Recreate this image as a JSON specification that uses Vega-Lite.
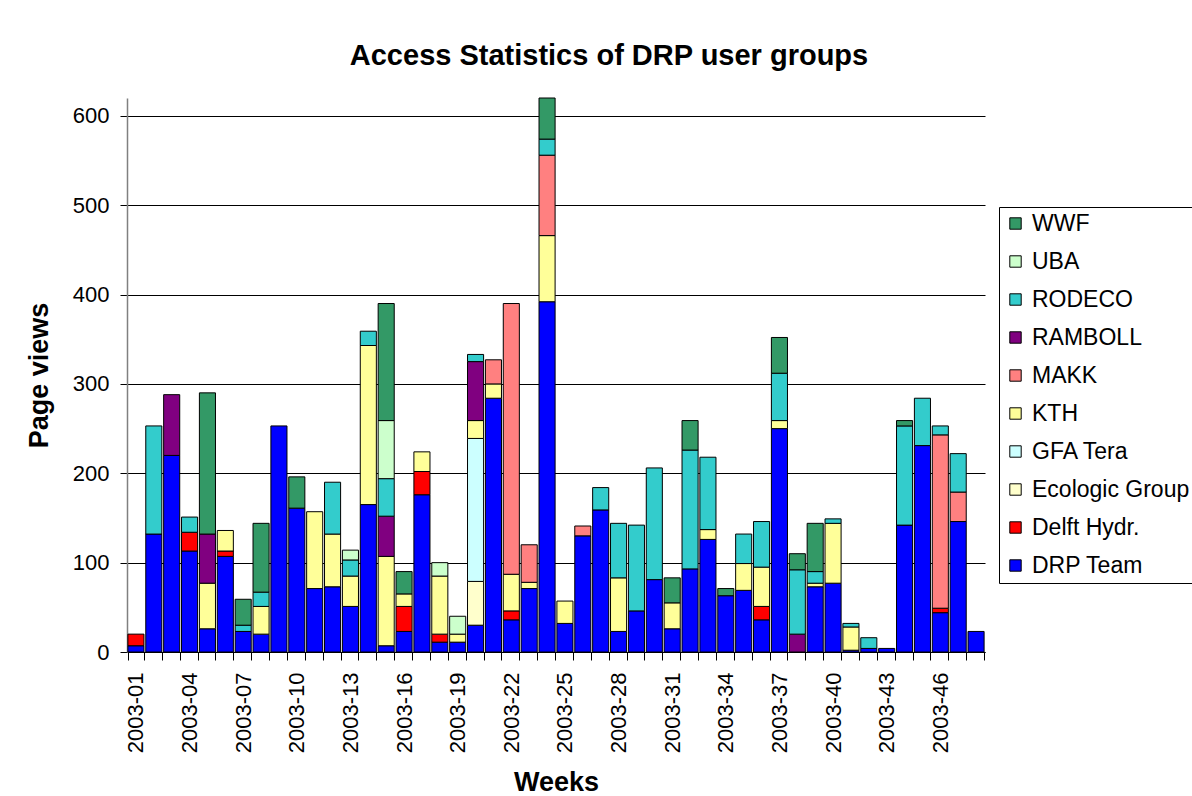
{
  "$schema": "https://vega.github.io/schema/vega-lite/v6.json",
  "width": 858,
  "height": 554,
  "autosize": {"type": "none"},
  "padding": {"left": 127, "top": 98, "right": 207, "bottom": 144},
  "background": "white",
  "title": {"text": "Access Statistics of DRP user groups", "font": "Liberation Sans", "fontSize": 29, "fontWeight": "bold", "color": "black", "anchor": "middle", "frame": "group", "dx": 53, "baseline": "alphabetic", "offset": 4},
  "config": {"view": {"stroke": null}, "font": "Liberation Sans"},
  "data": {"values": [
    {"week": "2003-01", "group": "DRP Team", "v": 7}, {"week": "2003-01", "group": "Delft Hydr.", "v": 13},
    {"week": "2003-02", "group": "DRP Team", "v": 132}, {"week": "2003-02", "group": "RODECO", "v": 121},
    {"week": "2003-03", "group": "DRP Team", "v": 220}, {"week": "2003-03", "group": "RAMBOLL", "v": 68},
    {"week": "2003-04", "group": "DRP Team", "v": 113}, {"week": "2003-04", "group": "Delft Hydr.", "v": 21}, {"week": "2003-04", "group": "RODECO", "v": 17},
    {"week": "2003-05", "group": "DRP Team", "v": 26}, {"week": "2003-05", "group": "KTH", "v": 51}, {"week": "2003-05", "group": "RAMBOLL", "v": 55}, {"week": "2003-05", "group": "WWF", "v": 158},
    {"week": "2003-06", "group": "DRP Team", "v": 107}, {"week": "2003-06", "group": "Delft Hydr.", "v": 6}, {"week": "2003-06", "group": "KTH", "v": 23},
    {"week": "2003-07", "group": "DRP Team", "v": 23}, {"week": "2003-07", "group": "RODECO", "v": 7}, {"week": "2003-07", "group": "WWF", "v": 29},
    {"week": "2003-08", "group": "DRP Team", "v": 20}, {"week": "2003-08", "group": "KTH", "v": 31}, {"week": "2003-08", "group": "RODECO", "v": 16}, {"week": "2003-08", "group": "WWF", "v": 77},
    {"week": "2003-09", "group": "DRP Team", "v": 253},
    {"week": "2003-10", "group": "DRP Team", "v": 161}, {"week": "2003-10", "group": "WWF", "v": 35},
    {"week": "2003-11", "group": "DRP Team", "v": 71}, {"week": "2003-11", "group": "KTH", "v": 86},
    {"week": "2003-12", "group": "DRP Team", "v": 73}, {"week": "2003-12", "group": "KTH", "v": 59}, {"week": "2003-12", "group": "RODECO", "v": 58},
    {"week": "2003-13", "group": "DRP Team", "v": 51}, {"week": "2003-13", "group": "KTH", "v": 34}, {"week": "2003-13", "group": "RODECO", "v": 18}, {"week": "2003-13", "group": "UBA", "v": 11},
    {"week": "2003-14", "group": "DRP Team", "v": 165}, {"week": "2003-14", "group": "KTH", "v": 178}, {"week": "2003-14", "group": "RODECO", "v": 16},
    {"week": "2003-15", "group": "DRP Team", "v": 7}, {"week": "2003-15", "group": "KTH", "v": 100}, {"week": "2003-15", "group": "RAMBOLL", "v": 45}, {"week": "2003-15", "group": "RODECO", "v": 42}, {"week": "2003-15", "group": "UBA", "v": 65}, {"week": "2003-15", "group": "WWF", "v": 131},
    {"week": "2003-16", "group": "DRP Team", "v": 23}, {"week": "2003-16", "group": "Delft Hydr.", "v": 28}, {"week": "2003-16", "group": "KTH", "v": 14}, {"week": "2003-16", "group": "WWF", "v": 25},
    {"week": "2003-17", "group": "DRP Team", "v": 176}, {"week": "2003-17", "group": "Delft Hydr.", "v": 26}, {"week": "2003-17", "group": "KTH", "v": 22},
    {"week": "2003-18", "group": "DRP Team", "v": 11}, {"week": "2003-18", "group": "Delft Hydr.", "v": 9}, {"week": "2003-18", "group": "KTH", "v": 65}, {"week": "2003-18", "group": "UBA", "v": 15},
    {"week": "2003-19", "group": "DRP Team", "v": 11}, {"week": "2003-19", "group": "KTH", "v": 9}, {"week": "2003-19", "group": "UBA", "v": 20},
    {"week": "2003-20", "group": "DRP Team", "v": 30}, {"week": "2003-20", "group": "Ecologic Group", "v": 49}, {"week": "2003-20", "group": "GFA Tera", "v": 160}, {"week": "2003-20", "group": "KTH", "v": 20}, {"week": "2003-20", "group": "RAMBOLL", "v": 66}, {"week": "2003-20", "group": "RODECO", "v": 8},
    {"week": "2003-21", "group": "DRP Team", "v": 284}, {"week": "2003-21", "group": "KTH", "v": 16}, {"week": "2003-21", "group": "MAKK", "v": 27},
    {"week": "2003-22", "group": "DRP Team", "v": 36}, {"week": "2003-22", "group": "Delft Hydr.", "v": 10}, {"week": "2003-22", "group": "KTH", "v": 41}, {"week": "2003-22", "group": "MAKK", "v": 303},
    {"week": "2003-23", "group": "DRP Team", "v": 71}, {"week": "2003-23", "group": "KTH", "v": 7}, {"week": "2003-23", "group": "MAKK", "v": 42},
    {"week": "2003-24", "group": "DRP Team", "v": 392}, {"week": "2003-24", "group": "KTH", "v": 74}, {"week": "2003-24", "group": "MAKK", "v": 90}, {"week": "2003-24", "group": "RODECO", "v": 18}, {"week": "2003-24", "group": "WWF", "v": 46},
    {"week": "2003-25", "group": "DRP Team", "v": 32}, {"week": "2003-25", "group": "KTH", "v": 25},
    {"week": "2003-26", "group": "DRP Team", "v": 130}, {"week": "2003-26", "group": "MAKK", "v": 11},
    {"week": "2003-27", "group": "DRP Team", "v": 159}, {"week": "2003-27", "group": "RODECO", "v": 25},
    {"week": "2003-28", "group": "DRP Team", "v": 23}, {"week": "2003-28", "group": "KTH", "v": 60}, {"week": "2003-28", "group": "RODECO", "v": 61},
    {"week": "2003-29", "group": "DRP Team", "v": 46}, {"week": "2003-29", "group": "RODECO", "v": 96},
    {"week": "2003-30", "group": "DRP Team", "v": 81}, {"week": "2003-30", "group": "RODECO", "v": 125},
    {"week": "2003-31", "group": "DRP Team", "v": 26}, {"week": "2003-31", "group": "KTH", "v": 29}, {"week": "2003-31", "group": "WWF", "v": 28},
    {"week": "2003-32", "group": "DRP Team", "v": 93}, {"week": "2003-32", "group": "RODECO", "v": 133}, {"week": "2003-32", "group": "WWF", "v": 33},
    {"week": "2003-33", "group": "DRP Team", "v": 126}, {"week": "2003-33", "group": "KTH", "v": 11}, {"week": "2003-33", "group": "RODECO", "v": 81},
    {"week": "2003-34", "group": "DRP Team", "v": 63}, {"week": "2003-34", "group": "WWF", "v": 8},
    {"week": "2003-35", "group": "DRP Team", "v": 69}, {"week": "2003-35", "group": "KTH", "v": 30}, {"week": "2003-35", "group": "RODECO", "v": 33},
    {"week": "2003-36", "group": "DRP Team", "v": 36}, {"week": "2003-36", "group": "Delft Hydr.", "v": 15}, {"week": "2003-36", "group": "KTH", "v": 44}, {"week": "2003-36", "group": "RODECO", "v": 51},
    {"week": "2003-37", "group": "DRP Team", "v": 250}, {"week": "2003-37", "group": "KTH", "v": 9}, {"week": "2003-37", "group": "RODECO", "v": 53}, {"week": "2003-37", "group": "WWF", "v": 40},
    {"week": "2003-38", "group": "RAMBOLL", "v": 20}, {"week": "2003-38", "group": "RODECO", "v": 72}, {"week": "2003-38", "group": "WWF", "v": 18},
    {"week": "2003-39", "group": "DRP Team", "v": 73}, {"week": "2003-39", "group": "KTH", "v": 4}, {"week": "2003-39", "group": "RODECO", "v": 13}, {"week": "2003-39", "group": "WWF", "v": 54},
    {"week": "2003-40", "group": "DRP Team", "v": 77}, {"week": "2003-40", "group": "KTH", "v": 67}, {"week": "2003-40", "group": "RODECO", "v": 5},
    {"week": "2003-41", "group": "DRP Team", "v": 2}, {"week": "2003-41", "group": "KTH", "v": 26}, {"week": "2003-41", "group": "RODECO", "v": 4},
    {"week": "2003-42", "group": "DRP Team", "v": 4}, {"week": "2003-42", "group": "RODECO", "v": 12},
    {"week": "2003-43", "group": "DRP Team", "v": 4},
    {"week": "2003-44", "group": "DRP Team", "v": 142}, {"week": "2003-44", "group": "RODECO", "v": 111}, {"week": "2003-44", "group": "WWF", "v": 6},
    {"week": "2003-45", "group": "DRP Team", "v": 231}, {"week": "2003-45", "group": "RODECO", "v": 53},
    {"week": "2003-46", "group": "DRP Team", "v": 44}, {"week": "2003-46", "group": "Delft Hydr.", "v": 5}, {"week": "2003-46", "group": "MAKK", "v": 194}, {"week": "2003-46", "group": "RODECO", "v": 10},
    {"week": "2003-47", "group": "DRP Team", "v": 146}, {"week": "2003-47", "group": "MAKK", "v": 33}, {"week": "2003-47", "group": "RODECO", "v": 43},
    {"week": "2003-48", "group": "DRP Team", "v": 23}
  ]},
  "transform": [
    {"calculate": "indexof(['DRP Team','Delft Hydr.','Ecologic Group','GFA Tera','KTH','MAKK','RAMBOLL','RODECO','UBA','WWF'], datum.group)", "as": "stackOrder"}
  ],
  "mark": {"type": "bar", "stroke": "black", "strokeWidth": 1},
  "encoding": {
    "x": {
      "field": "week", "type": "ordinal",
      "scale": {"paddingInner": 0.1, "paddingOuter": 0.05},
      "axis": {
        "title": "Weeks", "labelAngle": -90, "labelFontSize": 22, "labelColor": "black", "labelFont": "Liberation Sans",
        "labelExpr": "(toNumber(substring(datum.value,5,7))-1)%3==0 ? datum.value : ''",
        "labelOverlap": false, "tickBand": "extent", "tickSize": 8, "tickColor": "black", "domainColor": "black",
        "labelPadding": 12, "titleFontSize": 27, "titleFontWeight": "bold", "titleColor": "black", "titleFont": "Liberation Sans",
        "titleY": 138, "titleBaseline": "alphabetic"
      }
    },
    "y": {
      "field": "v", "type": "quantitative", "stack": "zero",
      "scale": {"domain": [0, 620], "nice": false},
      "axis": {
        "title": "Page views", "values": [0, 100, 200, 300, 400, 500, 600], "grid": true, "gridColor": "black", "gridWidth": 1, "gridOpacity": 1,
        "domainColor": "#808080", "domainWidth": 1.5, "tickColor": "black", "tickSize": 7, "labelFontSize": 22, "labelColor": "black",
        "labelFont": "Liberation Sans", "labelPadding": 11, "titleFontSize": 27, "titleFontWeight": "bold", "titleColor": "black",
        "titleFont": "Liberation Sans", "titleX": -80, "titleY": 277, "titleBaseline": "alphabetic", "titleAngle": -90, "titleAlign": "center"
      }
    },
    "color": {
      "field": "group", "type": "nominal",
      "scale": {
        "domain": ["WWF", "UBA", "RODECO", "RAMBOLL", "MAKK", "KTH", "GFA Tera", "Ecologic Group", "Delft Hydr.", "DRP Team"],
        "range": ["#339966", "#CCFFCC", "#33CCCC", "#800080", "#FF8080", "#FFFF99", "#CCFFFF", "#FFFFCC", "#FF0000", "#0000FF"]
      },
      "legend": {
        "title": null, "orient": "none", "legendX": 872, "legendY": 109, "symbolType": "square", "symbolSize": 130,
        "symbolStrokeColor": "black", "symbolStrokeWidth": 1, "labelFontSize": 23, "labelColor": "black", "labelFont": "Liberation Sans",
        "rowPadding": 14, "strokeColor": "black", "padding": 5, "labelOffset": 5, "fillColor": "white"
      }
    },
    "order": {"field": "stackOrder", "type": "quantitative", "sort": "ascending"}
  }
}
